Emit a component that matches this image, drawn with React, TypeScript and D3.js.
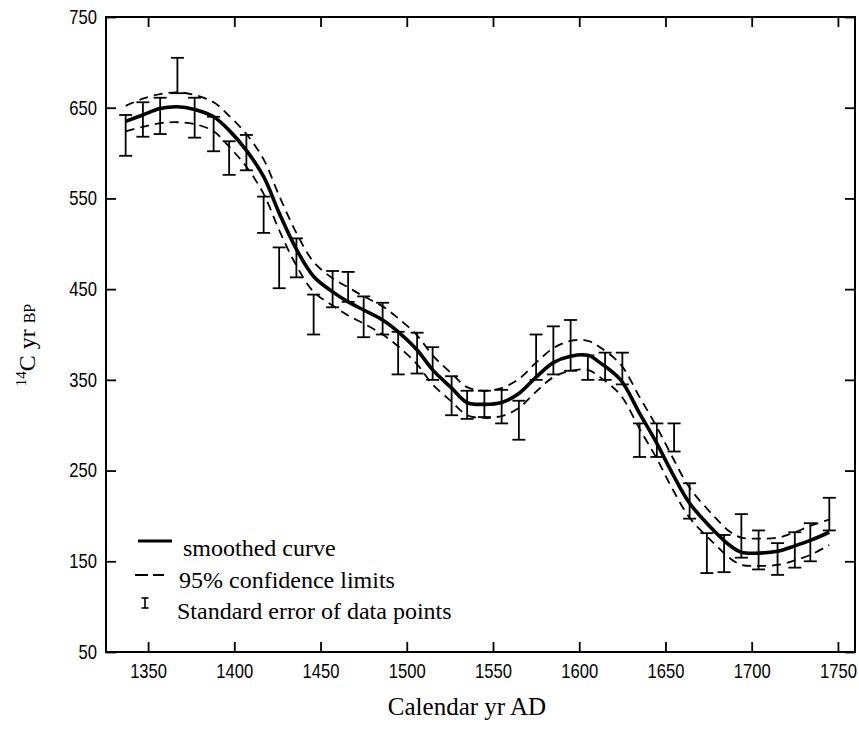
import React, { useEffect, useRef } from 'react';
import * as d3 from 'd3';

// axis ticks
const yearTicks = [1350, 1400, 1450, 1500, 1550, 1600, 1650, 1700, 1750];
const c14Ticks = [50, 150, 250, 350, 450, 550, 650, 750];

// smoothed curve and its 95% confidence limits
const curveYears = [1337, 1347, 1357, 1367, 1377, 1388, 1397, 1407, 1417, 1426, 1436, 1446, 1457, 1466, 1475, 1486, 1495, 1506, 1515, 1526, 1535, 1545, 1555, 1565, 1575, 1585, 1595, 1605, 1612, 1624, 1635, 1645, 1654, 1664, 1678, 1687, 1694, 1704, 1715, 1725, 1734, 1745];
const curveMid = [635, 642, 649, 651, 648, 640, 625, 603, 574, 534, 494, 464, 447, 436, 427, 416, 403, 383, 361, 341, 325, 323, 325, 335, 353, 369, 376, 377, 369, 350, 313, 280, 247, 214, 184, 168, 160, 159, 161, 167, 173, 182];
const curveUpper = [652, 660, 665, 667, 664, 656, 641, 621, 593, 553, 512, 480, 462, 452, 442, 431, 418, 399, 377, 357, 342, 338, 341, 351, 369, 385, 393, 393, 386, 367, 331, 298, 265, 231, 200, 183, 176, 175, 176, 182, 189, 196];
const curveLower = [624, 629, 633, 634, 632, 624, 607, 585, 555, 515, 476, 447, 432, 421, 412, 400, 387, 367, 345, 326, 311, 308, 310, 319, 337, 353, 360, 361, 353, 333, 296, 263, 230, 198, 170, 154, 146, 145, 146, 151, 157, 168];

// data points: standard error bars (top / bottom of each bar)
const pointYears = [1337, 1347, 1357, 1367, 1377, 1388, 1397, 1407, 1417, 1426, 1436, 1446, 1457, 1466, 1475, 1486, 1495, 1506, 1515, 1526, 1535, 1545, 1555, 1565, 1575, 1585, 1595, 1605, 1615, 1625, 1635, 1645, 1655, 1664, 1674, 1684, 1694, 1704, 1715, 1725, 1734, 1745];
const pointHigh = [642, 656, 661, 705, 661, 640, 613, 620, 552, 496, 506, 444, 470, 469, 442, 435, 403, 402, 386, 354, 338, 338, 339, 327, 400, 409, 416, 377, 380, 380, 302, 302, 302, 236, 181, 179, 202, 184, 170, 182, 192, 220];
const pointLow = [597, 618, 621, 666, 617, 602, 576, 581, 512, 451, 463, 400, 430, 436, 397, 400, 356, 357, 350, 311, 307, 309, 302, 284, 350, 356, 360, 350, 350, 345, 265, 265, 271, 197, 137, 138, 154, 141, 135, 143, 150, 184];

const W = 859;
const H = 729;

export default function App() {
  const ref = useRef<SVGSVGElement>(null);

  useEffect(() => {
    const svg = d3.select(ref.current);
    svg.selectAll('*').remove();

    const x = d3.scaleLinear().domain([1325.6, 1759.9]).range([106, 855]);
    const y = d3.scaleLinear().domain([50, 750]).range([652, 17]);

    const tickFont = "'Liberation Sans', Arial, sans-serif";
    const serif = "'Liberation Serif', 'Times New Roman', serif";
    const squeeze = 0.83; // the original tick labels use a narrow face

    // axes (ticks point inward on all four sides)
    const bottom = svg.append('g').attr('transform', `translate(0,${y(50)})`)
      .call(d3.axisBottom(x).tickValues(yearTicks).tickSizeInner(-10).tickSizeOuter(0).tickPadding(12).tickFormat(d3.format('d')));
    const left = svg.append('g').attr('transform', `translate(${x(1325.6)},0)`)
      .call(d3.axisLeft(y).tickValues(c14Ticks).tickSizeInner(-10).tickSizeOuter(0).tickPadding(9).tickFormat(d3.format('d')));
    const top = svg.append('g').attr('transform', `translate(0,${y(750)})`)
      .call(d3.axisTop(x).tickValues(yearTicks).tickSizeInner(-10).tickSizeOuter(0).tickFormat(() => ''));
    const right = svg.append('g').attr('transform', `translate(${x(1759.9)},0)`)
      .call(d3.axisRight(y).tickValues(c14Ticks).tickSizeInner(-10).tickSizeOuter(0).tickFormat(() => ''));

    [bottom, left, top, right].forEach(g => {
      g.select('.domain').remove();
      g.selectAll('line').attr('stroke', '#000').attr('stroke-width', 1.8);
      g.selectAll('text').attr('fill', '#000').attr('font-family', tickFont).attr('font-size', 20);
    });
    bottom.selectAll('text').attr('transform', `scale(${squeeze},1)`);
    left.selectAll('text').attr('x', -9 / squeeze).attr('transform', `scale(${squeeze},1)`);

    svg.append('rect')
      .attr('x', x(1325.6)).attr('y', y(750))
      .attr('width', x(1759.9) - x(1325.6)).attr('height', y(50) - y(750))
      .attr('fill', 'none').attr('stroke', '#000').attr('stroke-width', 2);

    // confidence limits
    const band = (vals: number[]) => d3.line<number>()
      .x((_, i) => x(curveYears[i]))
      .y(d => y(d))
      .curve(d3.curveCatmullRom.alpha(0.5))(vals);

    [curveUpper, curveLower].forEach(vals => {
      svg.append('path').attr('d', band(vals))
        .attr('fill', 'none').attr('stroke', '#000').attr('stroke-width', 1.8)
        .attr('stroke-dasharray', '9 6');
    });

    // smoothed curve
    svg.append('path').attr('d', band(curveMid))
      .attr('fill', 'none').attr('stroke', '#000').attr('stroke-width', 3.6)
      .attr('stroke-linejoin', 'round');

    // error bars
    const bars = svg.append('g').attr('stroke', '#000').attr('stroke-width', 1.8);
    pointYears.forEach((yr, i) => {
      const cx = x(yr);
      bars.append('line').attr('x1', cx).attr('x2', cx).attr('y1', y(pointHigh[i])).attr('y2', y(pointLow[i]));
      [pointHigh[i], pointLow[i]].forEach(v => {
        bars.append('line').attr('x1', cx - 6.5).attr('x2', cx + 6.5).attr('y1', y(v)).attr('y2', y(v));
      });
    });

    // legend
    const lg = svg.append('g');
    lg.append('line').attr('x1', 138).attr('x2', 172).attr('y1', 541).attr('y2', 541)
      .attr('stroke', '#000').attr('stroke-width', 3);
    lg.append('line').attr('x1', 135).attr('x2', 164).attr('y1', 575).attr('y2', 575)
      .attr('stroke', '#000').attr('stroke-width', 1.8).attr('stroke-dasharray', '13 5');
    lg.append('line').attr('x1', 145).attr('x2', 145).attr('y1', 598).attr('y2', 608)
      .attr('stroke', '#000').attr('stroke-width', 1.6);
    [598, 608].forEach(v => {
      lg.append('line').attr('x1', 141.5).attr('x2', 148.5).attr('y1', v).attr('y2', v)
        .attr('stroke', '#000').attr('stroke-width', 1.6);
    });
    const legendText = [
      { t: 'smoothed curve', x: 183, y: 556 },
      { t: '95% confidence limits', x: 179, y: 588 },
      { t: 'Standard error of data points', x: 177, y: 619 },
    ];
    legendText.forEach(d => {
      lg.append('text').attr('x', d.x).attr('y', d.y).text(d.t)
        .attr('font-family', serif).attr('font-size', 24).attr('fill', '#000');
    });

    // axis titles
    svg.append('text').attr('x', 467).attr('y', 715)
      .attr('text-anchor', 'middle').attr('font-family', serif).attr('font-size', 25)
      .text('Calendar yr AD');

    const yt = svg.append('text').attr('transform', 'translate(35,345) rotate(-90)')
      .attr('text-anchor', 'middle').attr('font-family', serif).attr('font-size', 24);
    yt.append('tspan').attr('font-size', 15).attr('dy', -9).text('14');
    yt.append('tspan').attr('dy', 9).text('C yr ');
    yt.append('tspan').attr('font-size', 16).text('BP');
  }, []);

  return (
    <svg ref={ref} width={W} height={H}
      style={{ position: 'absolute', left: 0, top: 0, background: '#fff' }} />
  );
}
